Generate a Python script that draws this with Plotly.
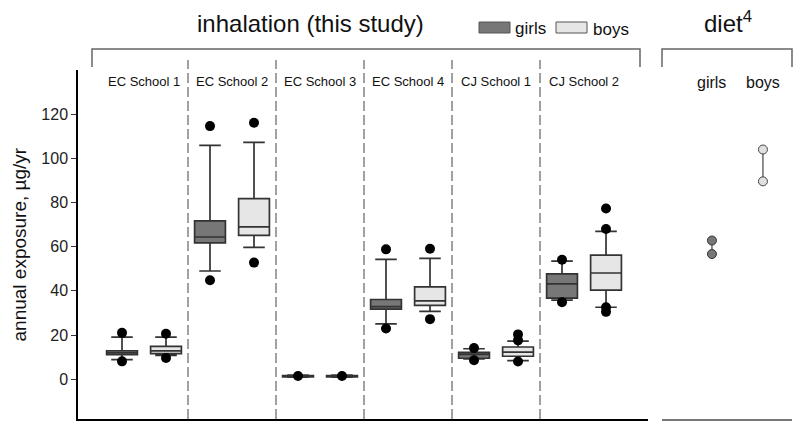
import plotly.graph_objects as go

schools = ["EC School 1", "EC School 2", "EC School 3", "EC School 4", "CJ School 1", "CJ School 2"]

girls_lower = [8.9, 49.0, 0.9, 25.1, 9.2, 35.8]
girls_q1 = [11.1, 61.7, 1.1, 31.7, 9.5, 36.7]
girls_median = [12.0, 64.4, 1.3, 32.9, 11.3, 43.2]
girls_q3 = [12.9, 71.7, 1.6, 36.1, 12.2, 47.7]
girls_upper = [19.1, 105.9, 1.9, 54.3, 13.8, 53.5]
girls_outliers = [[21.0, 8.1], [114.6, 44.8], [1.5], [58.8, 23.0], [14.1, 8.6], [54.1, 34.9]]

boys_lower = [10.8, 59.7, 0.9, 30.7, 8.4, 32.6]
boys_q1 = [11.6, 65.1, 1.1, 33.4, 10.4, 40.3]
boys_median = [12.8, 69.0, 1.3, 35.5, 12.3, 48.1]
boys_q3 = [14.9, 81.8, 1.6, 41.8, 14.6, 56.2]
boys_upper = [19.1, 107.2, 1.9, 54.7, 17.3, 66.9]
boys_outliers = [[20.6, 9.6], [116.1, 52.8], [1.5], [59.1, 27.2], [20.3, 17.6, 8.0], [77.3, 68.0, 32.6, 30.5]]

diet_groups = ["girls", "boys"]
diet_girls = [62.8, 56.7]
diet_boys = [104.0, 89.6]

y_ticks = [0, 20, 40, 60, 80, 100, 120]

FONT = "Liberation Sans, Arial, sans-serif"
GIRL_FILL = "#777777"
BOY_FILL = "#e6e6e6"
EDGE = "#333333"

# pixel -> paper helpers (plot area: x 78..792, y 70..419)
L, R, T, B = 78, 792, 70, 419
def pxx(x):
    return (x - L) / (R - L)
def pyy(y):
    return (B - y) / (B - T)

fig = go.Figure()

n = len(schools)
gx = [i - 0.25 for i in range(n)]
bx = [i + 0.25 for i in range(n)]

fig.add_trace(go.Box(x=gx, q1=girls_q1, median=girls_median, q3=girls_q3,
                     lowerfence=girls_lower, upperfence=girls_upper,
                     width=0.35, whiskerwidth=0.7, fillcolor=GIRL_FILL,
                     line=dict(color=EDGE, width=1.7), boxpoints=False,
                     name="girls", showlegend=False, xaxis="x", yaxis="y"))
fig.add_trace(go.Box(x=bx, q1=boys_q1, median=boys_median, q3=boys_q3,
                     lowerfence=boys_lower, upperfence=boys_upper,
                     width=0.35, whiskerwidth=0.7, fillcolor=BOY_FILL,
                     line=dict(color=EDGE, width=1.7), boxpoints=False,
                     name="boys", showlegend=False, xaxis="x", yaxis="y"))

ox, oy = [], []
for i, vals in enumerate(girls_outliers):
    for v in vals:
        ox.append(gx[i]); oy.append(v)
for i, vals in enumerate(boys_outliers):
    for v in vals:
        ox.append(bx[i]); oy.append(v)
fig.add_trace(go.Scatter(x=ox, y=oy, mode="markers",
                         marker=dict(color="black", size=10), showlegend=False,
                         xaxis="x", yaxis="y"))

fig.add_trace(go.Scatter(x=[0, 0], y=diet_girls, mode="lines+markers",
                         line=dict(color="#444444", width=1.2),
                         marker=dict(color=GIRL_FILL, size=9, line=dict(color="#333333", width=1)),
                         showlegend=False, xaxis="x2", yaxis="y"))
fig.add_trace(go.Scatter(x=[1, 1], y=diet_boys, mode="lines+markers",
                         line=dict(color="#444444", width=1.2),
                         marker=dict(color="#e0e0e0", size=9, line=dict(color="#444444", width=1)),
                         showlegend=False, xaxis="x2", yaxis="y"))

shapes = []
# dashed separators
for i in range(n - 1):
    shapes.append(dict(type="line", xref="x", yref="paper", x0=i + 0.5, x1=i + 0.5,
                       y0=0, y1=pyy(60), line=dict(color="#444444", width=1, dash="10px,4px")))
# brackets
for (a, b) in [(92, 640), (662, 792)]:
    shapes.append(dict(type="path", xref="paper", yref="paper",
                       path=f"M {pxx(a)},{pyy(67)} L {pxx(a)},{pyy(49)} L {pxx(b)},{pyy(49)} L {pxx(b)},{pyy(67)}",
                       line=dict(color="#666666", width=1.5)))
# legend swatches
shapes.append(dict(type="rect", xref="paper", yref="paper", x0=pxx(479), x1=pxx(510),
                   y0=pyy(33), y1=pyy(22), fillcolor=GIRL_FILL, line=dict(color="#555555", width=1)))
shapes.append(dict(type="rect", xref="paper", yref="paper", x0=pxx(556), x1=pxx(587),
                   y0=pyy(33), y1=pyy(22), fillcolor=BOY_FILL, line=dict(color="#555555", width=1)))

ann = []
ann.append(dict(text="inhalation (this study)", xref="paper", yref="paper", x=pxx(310), y=pyy(23),
                showarrow=False, xanchor="center", yanchor="middle", font=dict(size=24, color="#111111")))
ann.append(dict(text="diet<sup>4</sup>", xref="paper", yref="paper", x=pxx(728), y=pyy(22),
                showarrow=False, xanchor="center", yanchor="middle", font=dict(size=24, color="#111111")))
ann.append(dict(text="girls", xref="paper", yref="paper", x=pxx(513), y=pyy(28),
                showarrow=False, xanchor="left", yanchor="middle", font=dict(size=17, color="#111111")))
ann.append(dict(text="boys", xref="paper", yref="paper", x=pxx(591), y=pyy(29),
                showarrow=False, xanchor="left", yanchor="middle", font=dict(size=17, color="#111111")))
for i, s in enumerate(schools):
    ann.append(dict(text=s, xref="x", yref="paper", x=i, y=pyy(81), showarrow=False,
                    xanchor="center", yanchor="middle", font=dict(size=13, color="#111111")))
for i, g in enumerate(diet_groups):
    ann.append(dict(text=g, xref="x2", yref="paper", x=i, y=pyy(82), showarrow=False,
                    xanchor="center", yanchor="middle", font=dict(size=16, color="#111111")))
ann.append(dict(text="annual exposure, µg/yr", xref="paper", yref="paper", x=pxx(19), y=0.5,
                textangle=-90, showarrow=False, xanchor="center", yanchor="middle",
                font=dict(size=19, color="#111111")))

fig.update_layout(
    width=800, height=428,
    margin=dict(l=L, r=800 - R, t=T, b=428 - B, autoexpand=False),
    paper_bgcolor="white", plot_bgcolor="white",
    font=dict(family=FONT, color="#111111"),
    showlegend=False,
    shapes=shapes, annotations=ann,
    xaxis=dict(domain=[0, pxx(648)], range=[-0.75, 5.727], showline=True, linecolor="black",
               linewidth=1.5, showticklabels=False, ticks="", showgrid=False, zeroline=False,
               anchor="y"),
    xaxis2=dict(domain=[pxx(662), 1], range=[-0.98, 1.57], showline=True, linecolor="#777777",
                linewidth=2, showticklabels=False, ticks="", showgrid=False, zeroline=False,
                anchor="y"),
    yaxis=dict(range=[-18, 140], showline=True, linecolor="black", linewidth=1.5,
               ticks="outside", ticklen=5, tickwidth=1, tickcolor="#333333",
               tickvals=y_ticks, showgrid=False, zeroline=False,
               tickfont=dict(size=16, color="#222222"), anchor="x"),
)

fig.write_html("out.html", config={"displayModeBar": False},
               post_script="document.body.style.margin='0px';document.body.style.overflow='hidden';")
